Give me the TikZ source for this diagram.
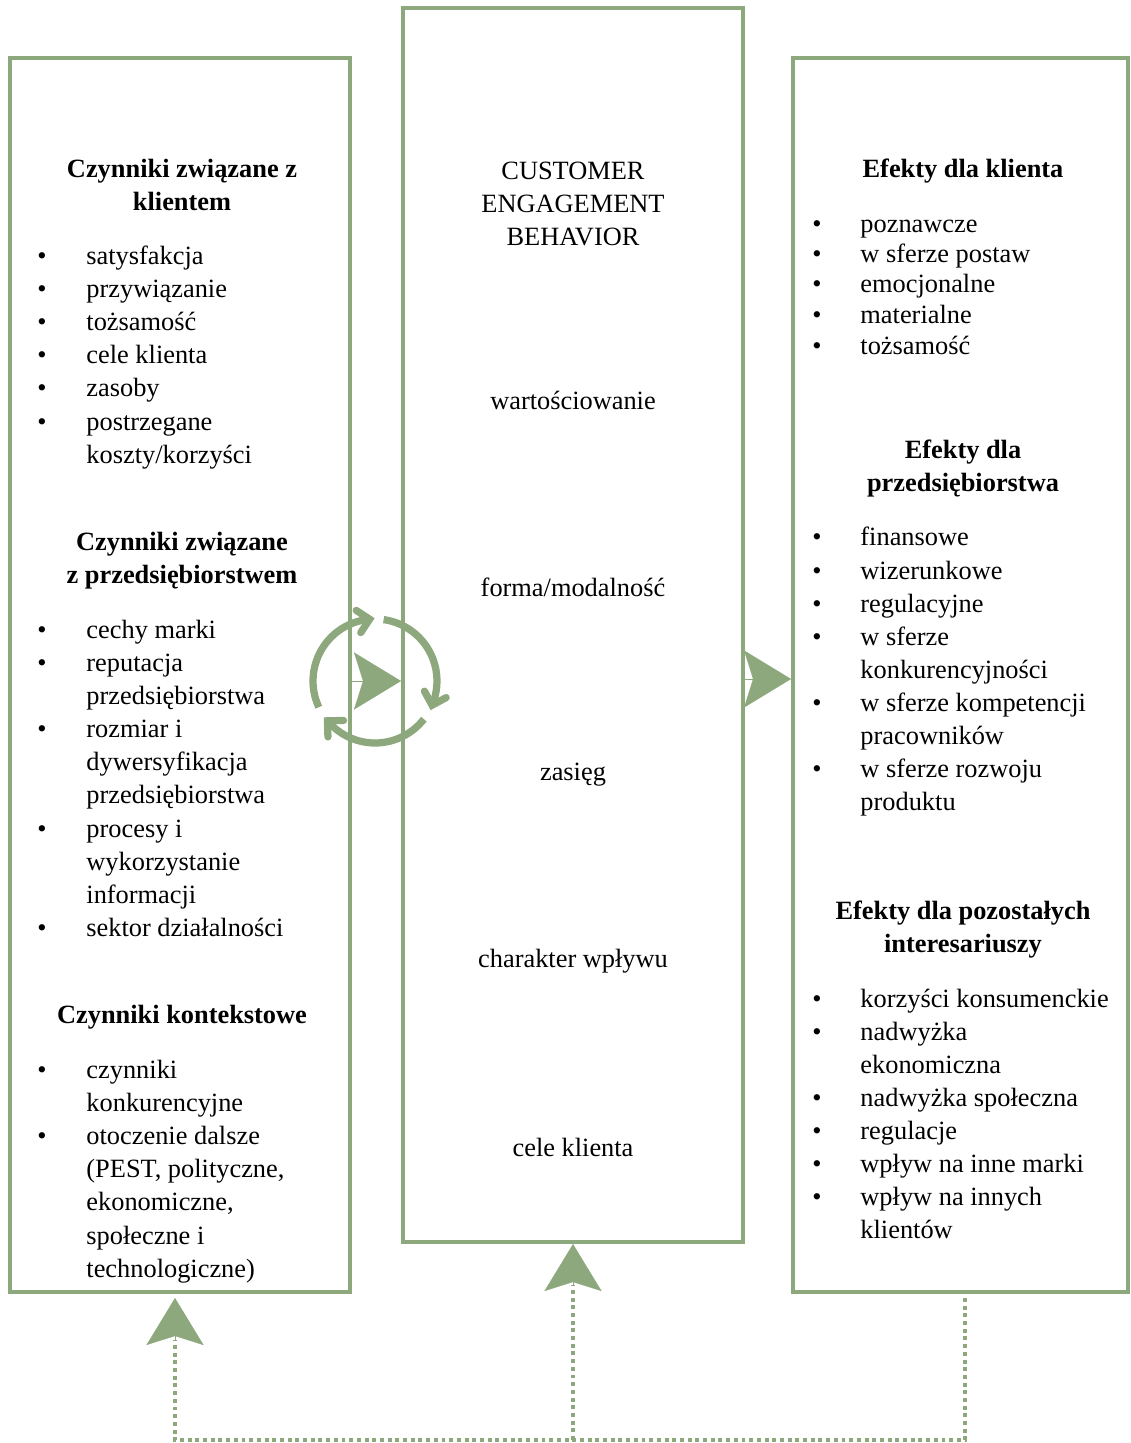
\documentclass[tikz,border=0pt]{standalone}
\usepackage{fontspec}
\setmainfont{Liberation Serif}
\usetikzlibrary{arrows.meta,calc}
\definecolor{sage}{RGB}{142,168,126}
\begin{document}
\begin{tikzpicture}[x=0.455pt,y=-0.455pt,
  panel/.style={draw=sage,line width=1.8pt,inner sep=0pt,minimum height=561.5pt},
  txt/.style={inner sep=0pt,yshift=-1.3pt,font=\fontsize{12}{15}\selectfont},
  item/.style={txt,anchor=mid west},
  dot/.style={txt,anchor=mid},
  head/.style={txt,anchor=mid,font=\fontsize{12}{15}\selectfont\bfseries},
  bigtip/.style={draw=sage,fill=sage,line width=0.1pt,
    -{Stealth[length=21.4pt,width=26pt,inset=4.1pt]}},
  cycline/.style={draw=sage,line width=3.3pt,line join=round,line cap=butt},
  chevron/.style={draw=sage,line width=3.3pt,line join=miter,line cap=round},
  dotline/.style={draw=sage,line width=2.1pt,dash pattern=on 1.8pt off 1.7pt}]

\useasboundingbox (0,0) rectangle (1131,1443);

% three panels
\node[panel,minimum width=154.7pt] (lbox) at (180,675) {};
\node[panel,minimum width=154.7pt] (mbox) at (573,625) {};
\node[panel,minimum width=152.4pt] (rbox) at (960.5,675) {};

% left panel: drivers
\node[head] (lh1) at (182,170) {Czynniki związane z};
\node[head] (lh2) at (182,203) {klientem};
\node[head] (lh3) at (182,543) {Czynniki związane};
\node[head] (lh4) at (182,576) {z przedsiębiorstwem};
\node[head] (lh5) at (182,1016) {Czynniki kontekstowe};
\foreach \t/\y [count=\i] in {satysfakcja/257, przywiązanie/290, tożsamość/323,
    cele klienta/356, zasoby/389, postrzegane/423, {koszty/korzyści}/456,
    cechy marki/631, reputacja/664, przedsiębiorstwa/697, rozmiar i/730,
    dywersyfikacja/763, przedsiębiorstwa/796, procesy i/830,
    wykorzystanie/863, informacji/896, sektor działalności/929,
    czynniki/1071, konkurencyjne/1104, otoczenie dalsze/1137,
    {(PEST, polityczne,}/1170, {ekonomiczne,}/1203, społeczne i/1237,
    technologiczne)/1270}
  \node[item] (lt\i) at (86,\y) {\t};
\foreach \y [count=\i] in {257,290,323,356,389,423,631,664,730,830,929,1071,1137}
  \node[dot] (lb\i) at (42,\y) {•};

% middle panel: engagement behaviour
\node[txt] (mt1) at (573,168) {CUSTOMER};
\node[txt] (mt2) at (573,201) {ENGAGEMENT};
\node[txt] (mt3) at (573,234) {BEHAVIOR};
\node[txt] (md1) at (573,398) {wartościowanie};
\node[txt] (md2) at (573,584) {forma/modalność};
\node[txt] (md3) at (573,772) {zasięg};
\node[txt] (md4) at (573,958) {charakter wpływu};
\node[txt] (md5) at (573,1145) {cele klienta};

% right panel: outcomes
\node[head] (rh1) at (963,170) {Efekty dla klienta};
\node[head] (rh2) at (963,451) {Efekty dla};
\node[head] (rh3) at (963,484) {przedsiębiorstwa};
\node[head] (rh4) at (963,912) {Efekty dla pozostałych};
\node[head] (rh5) at (963,945) {interesariuszy};
\foreach \t/\y [count=\i] in {poznawcze/225, w sferze postaw/255,
    emocjonalne/285, materialne/316, tożsamość/347,
    finansowe/538, wizerunkowe/572, regulacyjne/605, w sferze/638,
    konkurencyjności/671, w sferze kompetencji/704, pracowników/737,
    w sferze rozwoju/770, produktu/803,
    korzyści konsumenckie/1000, nadwyżka/1033, ekonomiczna/1066,
    nadwyżka społeczna/1099, regulacje/1132, wpływ na inne marki/1165,
    wpływ na innych/1198, klientów/1231}
  \node[item] (rt\i) at (860,\y) {\t};
\foreach \y [count=\i] in {225,255,285,316,347,538,572,605,638,704,770,
    1000,1033,1099,1132,1165,1198}
  \node[dot] (rb\i) at (817,\y) {•};

% feedback cycle between the first two panels: three arcs, each with a chevron
\coordinate (cyc) at (375,681);
\foreach \s/\e [count=\i, evaluate=\e as \a using \e-2,
                evaluate=\e as \b using \e-13] in {-205/-95, -82/23, 38/140} {
  \draw[cycline] ($(cyc)+(\s:62)$) arc[start angle=\s,end angle=\a,radius=62];
  \coordinate (ct\i) at ($(cyc)+(\e:62)$);
  \coordinate (cb\i) at ($(cyc)+(\b:62)$);
  \draw[chevron] ($(ct\i)!7.3pt!45:(cb\i)$) -- (ct\i) -- ($(ct\i)!7.3pt!-45:(cb\i)$);
}

% solid arrows between panels
\draw[bigtip] (lbox.east |- cyc) -- (mbox.west |- cyc);
\coordinate (rmid) at (0,679);
\draw[bigtip] (mbox.east |- rmid) -- (rbox.west |- rmid);

% dotted feedback loop along the bottom
\coordinate (fbL) at (175,1440);
\coordinate (fbM) at (573,1440);
\coordinate (fbR) at (965,1440);
\coordinate (rEnd) at (965,1298);
\coordinate (lTip) at (175,1298);
\coordinate (lBase) at (175,1340);
\coordinate (mBase) at (573,1285);
\draw[dotline] (rEnd) -- (fbR) -- (fbL) -- (lBase);
\draw[dotline] (fbM) -- (mBase);
\draw[bigtip] (lBase) -- (lTip);
\draw[bigtip] (mBase) -- (mbox.south);
\end{tikzpicture}
\end{document}
